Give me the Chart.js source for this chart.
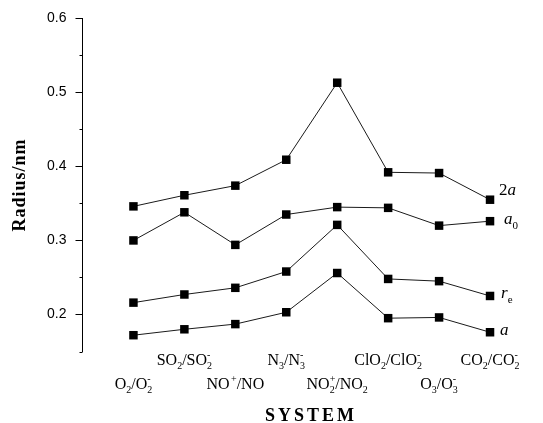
<!DOCTYPE html>
<html>
<head>
<meta charset="utf-8">
<script src="https://cdn.jsdelivr.net/npm/chart.js@4/dist/chart.umd.min.js"></script>
<style>
  body { margin: 0; background: #fff; }
  canvas { display: block; }
</style>
</head>
<body>
<canvas id="myChart" width="543" height="423"></canvas>
<script>
// Categories: _x = subscript, ^x = superscript
var categories = ['O_2/O_2^-', 'SO_2/SO_2^-', 'NO^+/NO', 'N_3/N_3^-',
                  'NO_2^+/NO_2', 'ClO_2/ClO_2^-', 'O_3/O_3^-', 'CO_2/CO_2^-'];

// Series values (Radius / nm)
var twoA   = [0.346, 0.361, 0.374, 0.409, 0.513, 0.392, 0.391, 0.355];
var aZero  = [0.300, 0.338, 0.294, 0.335, 0.345, 0.344, 0.320, 0.326];
var rE     = [0.216, 0.227, 0.236, 0.258, 0.321, 0.248, 0.245, 0.225];
var aRad   = [0.172, 0.180, 0.187, 0.203, 0.256, 0.195, 0.196, 0.176];

// Series names: ~ toggles italic
var seriesNames = ['2~a~', '~a~_0', '~r~_e', '~a~'];

// Y axis ticks
var yMajorTicks = [0.2, 0.3, 0.4, 0.5, 0.6];
var yMinorTicks = [0.15, 0.25, 0.35, 0.45, 0.55];

var SERIF = '"Liberation Serif", "Times New Roman", serif';

function toPoints(vals){
    return vals.map(function(v, i){ return {x: i, y: v}; });
}

function isMajor(v){
    return yMajorTicks.some(function(t){ return Math.abs(t - v) < 1e-6; });
}

// split a label into normal / sub / sup pieces
function parseRich(s){
    var out = [], it = false, i = 0;
    while (i < s.length) {
        var c = s[i];
        if (c === '~') { it = !it; i++; continue; }
        if (c === '_' || c === '^') {
            out.push({t: s[i + 1], it: false, m: c === '_' ? 'sub' : 'sup'});
            i += 2;
            continue;
        }
        var last = out[out.length - 1];
        if (last && last.m === 'n' && last.it === it) last.t += c;
        else out.push({t: c, it: it, m: 'n'});
        i++;
    }
    return out;
}

function pieceFont(p, size){
    var sz = p.m === 'n' ? size : Math.round(size * 0.62);
    return (p.it ? 'italic ' : '') + sz + 'px ' + SERIF;
}

function layoutRich(ctx, pieces, size){
    var x = 0, placed = [];
    for (var i = 0; i < pieces.length; i++) {
        var p = pieces[i];
        ctx.font = pieceFont(p, size);
        var w = ctx.measureText(p.t).width;
        var next = pieces[i + 1];
        if (p.m === 'sub' && next && next.m === 'sup') {
            ctx.font = pieceFont(next, size);
            var w2 = ctx.measureText(next.t).width;
            placed.push({p: p, x: x});
            placed.push({p: next, x: x});
            x += Math.max(w, w2);
            i++;
            continue;
        }
        if (p.m === 'sup') x += 1.5;
        placed.push({p: p, x: x});
        x += w;
    }
    return {items: placed, width: x};
}

function drawRich(ctx, s, x, y, size, align){
    var lay = layoutRich(ctx, parseRich(s), size);
    var x0 = align === 'center' ? x - lay.width / 2 : x;
    ctx.textAlign = 'left';
    ctx.textBaseline = 'alphabetic';
    lay.items.forEach(function(it){
        var p = it.p, dy = 0;
        if (p.m === 'sub') dy = size * 0.28;
        if (p.m === 'sup') dy = -size * 0.42;
        ctx.font = pieceFont(p, size);
        ctx.fillText(p.t, x0 + it.x, y + dy);
    });
}

var textPlugin = {
    id: 'textPlugin',
    afterDraw: function(chart){
        var ctx = chart.ctx;
        var area = chart.chartArea;
        var xs = chart.scales.x, ys = chart.scales.y;
        ctx.save();
        ctx.fillStyle = '#000';
        ctx.strokeStyle = '#000';

        // major and minor ticks on the y axis
        ctx.lineWidth = 1;
        yMajorTicks.concat(yMinorTicks).forEach(function(v){
            var len = isMajor(v) ? 7 : 3;
            var py = Math.round(ys.getPixelForValue(v)) + 0.5;
            ctx.beginPath();
            ctx.moveTo(area.left - len, py);
            ctx.lineTo(area.left, py);
            ctx.stroke();
        });

        // category labels, staggered in two rows
        categories.forEach(function(c, i){
            var px = xs.getPixelForValue(i);
            var py = area.bottom + (i % 2 === 1 ? 13.5 : 37.5);
            drawRich(ctx, c, px, py, 16, 'center');
        });

        // x axis title
        ctx.font = 'bold 18px ' + SERIF;
        ctx.letterSpacing = '3px';
        ctx.textAlign = 'center';
        ctx.textBaseline = 'alphabetic';
        ctx.fillText('SYSTEM', 311, area.bottom + 69.5);

        // y axis title
        ctx.save();
        ctx.translate(20, (area.top + area.bottom) / 2);
        ctx.rotate(-Math.PI / 2);
        ctx.font = 'bold 18px ' + SERIF;
        ctx.letterSpacing = '1px';
        ctx.textBaseline = 'middle';
        ctx.fillText('Radius/nm', 0, 0);
        ctx.restore();
        ctx.letterSpacing = '0px';

        // series names at the right end
        var nudgeX = [9, 14, 11, 10];
        var nudgeY = [-5, 3, 2, 3];
        chart.data.datasets.forEach(function(ds, k){
            var last = ds.data[ds.data.length - 1];
            var px = xs.getPixelForValue(last.x) + nudgeX[k];
            var py = ys.getPixelForValue(last.y) + nudgeY[k];
            drawRich(ctx, seriesNames[k], px, py, 17, 'left');
        });
        ctx.restore();
    }
};

function makeSet(label, vals){
    return {
        label: label,
        data: toPoints(vals),
        borderColor: '#1a1a1a',
        borderWidth: 1,
        pointStyle: 'rect',
        pointRadius: 6,
        pointBackgroundColor: '#000',
        pointBorderWidth: 0,
        fill: false,
        tension: 0,
        clip: false
    };
}

var myChart = new Chart(document.getElementById('myChart'), {
    type: 'line',
    data: {
        datasets: [
            makeSet('2a', twoA),
            makeSet('a0', aZero),
            makeSet('re', rE),
            makeSet('a', aRad)
        ]
    },
    options: {
        responsive: false,
        animation: false,
        layout: { padding: { left: 0, right: 27.5, top: 18.3, bottom: 71.5 } },
        plugins: { legend: { display: false }, tooltip: { enabled: false } },
        scales: {
            x: {
                type: 'linear',
                min: -1,
                max: 7.5,
                display: false
            },
            y: {
                type: 'linear',
                min: 0.15,
                max: 0.6,
                afterFit: function(scale){
                    scale.width = 82.5;
                    scale.paddingTop = 0;
                    scale.paddingBottom = 0;
                },
                afterBuildTicks: function(scale){
                    scale.ticks = yMajorTicks.map(function(v){ return {value: v}; });
                },
                border: { display: true, color: '#000', width: 1 },
                grid: { drawOnChartArea: false, drawTicks: false },
                ticks: {
                    padding: 16,
                    color: '#000',
                    font: { family: '"Liberation Sans", Arial, sans-serif', size: 14 },
                    callback: function(v){ return v.toFixed(1); }
                }
            }
        }
    },
    plugins: [textPlugin]
});
</script>
</body>
</html>
